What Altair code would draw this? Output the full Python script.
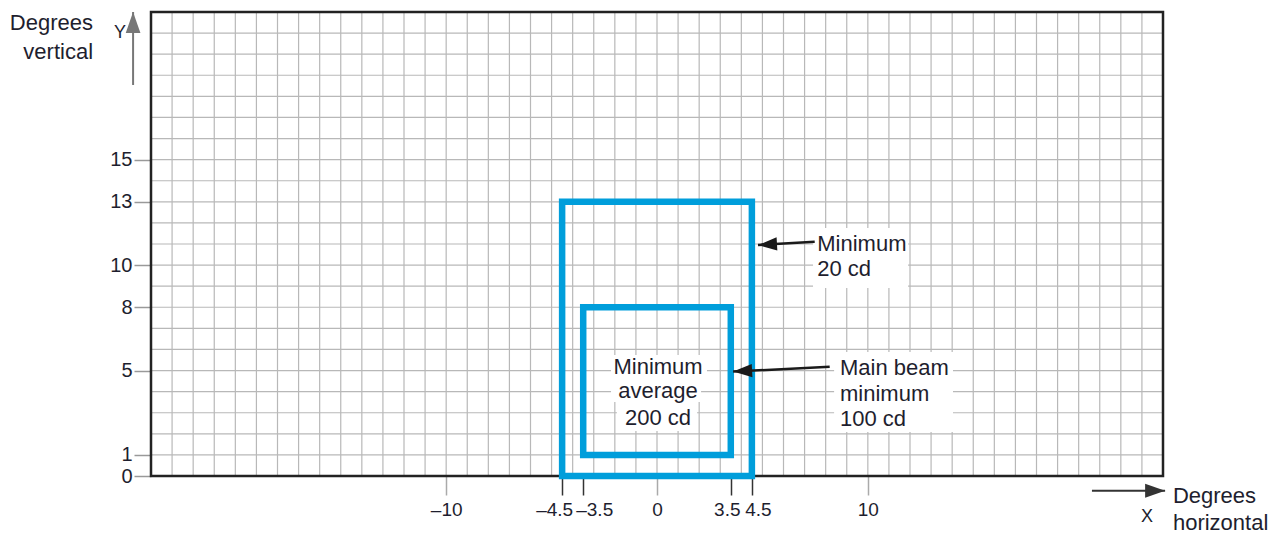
import altair as alt
import pandas as pd

# ---------------- data ----------------
X_DOMAIN = [-24, 24]
Y_DOMAIN = [0, 22]
x_ticks = [-10, -4.5, -3.5, 0, 3.5, 4.5, 10]
y_ticks = [0, 1, 5, 8, 10, 13, 15]
x_grid = list(range(X_DOMAIN[0], X_DOMAIN[1] + 1))
y_grid = list(range(Y_DOMAIN[0], Y_DOMAIN[1] + 1))

box_name = ["Minimum 20 cd", "Main beam minimum 100 cd"]
box_x1 = [-4.5, -3.5]
box_x2 = [4.5, 3.5]
box_y1 = [0, 1]
box_y2 = [13, 8]

# white backgrounds behind annotation text (data coords)
bg_x1 = [7.40, 8.40, -2.18, -2.18, -1.90]
bg_x2 = [11.91, 14.04, 2.37, 2.09, 1.90]
bg_y1 = [8.91, 2.09, 4.55, 3.51, 2.13]
bg_y2 = [11.76, 5.88, 5.74, 4.55, 3.51]

# arrows: tail -> tip
arr_x = [7.48, 8.19, -24.85, 20.63]
arr_y = [11.11, 5.18, 18.54, -0.70]
arr_x2 = [4.79, 3.61, -24.85, 24.10]
arr_y2 = [10.95, 4.95, 22.0, -0.70]
arr_angle = [356.7, 357.0, 90, 180]
arr_size = [361, 361, 441, 400]
arr_color = ["#1a1a1a", "#1a1a1a", "#777777", "#333333"]
arr_width = [2.5, 2.5, 2.0, 2.0]

txt_left = ["Minimum", "20 cd", "Main beam", "minimum", "100 cd", "Degrees", "horizontal"]
txt_left_x = [7.60, 7.60, 8.68, 8.68, 8.68, 24.47, 24.47]
txt_left_y = [10.68, 9.48, 4.79, 3.56, 2.37, -1.27, -2.56]

txt_center = ["Minimum", "average", "200 cd"]
txt_center_x = [0.05, 0.05, 0.05]
txt_center_y = [4.82, 3.68, 2.42]

txt_axis_letter = ["Y", "X"]
txt_axis_letter_x = [-25.47, 23.24]
txt_axis_letter_y = [20.77, -2.17]

txt_right = ["Degrees", "vertical"]
txt_right_x = [-26.75, -26.75]
txt_right_y = [21.15, 19.77]

# ---------------- styles ----------------
FONT = "Liberation Sans"
TXT = "#1e1e2e"
GRID = "#b8b8b8"
BLUE = "#009edb"

xs = alt.Scale(domain=X_DOMAIN, nice=False, zero=False)
ys = alt.Scale(domain=Y_DOMAIN, nice=False, zero=False)

xa = alt.Axis(
    values=x_ticks, title=None, domain=False, grid=False,
    tickSize=19, tickWidth=1.5,
    tickColor={"condition": {"test": "abs(datum.value) == 3.5 || abs(datum.value) == 4.5", "value": "#333333"},
               "value": "#aaaaaa"},
    labelOffset={"condition": [
        {"test": "datum.value == -4.5", "value": -8},
        {"test": "datum.value == -3.5", "value": 11},
        {"test": "datum.value == 3.5", "value": -4},
        {"test": "datum.value == 4.5", "value": 6}], "value": 0},
    labelFontSize=19, labelColor=TXT, labelPadding=5, labelFont=FONT,
    labelOverlap=False, labelBound=False, labelFlush=False, format="~g",
    labelExpr="replace(datum.label, '\u2212', '\u2013')",
)
ya = alt.Axis(
    values=y_ticks, title=None, domain=False, grid=False,
    tickSize=17, tickWidth=1.5, tickColor="#999999",
    labelFontSize=20, labelColor=TXT, labelPadding=2, labelFont=FONT,
    labelOverlap=False, labelBound=False, labelFlush=False,
)


def X(f):
    return alt.X(f, type="quantitative", scale=xs, axis=xa)


def Y(f):
    return alt.Y(f, type="quantitative", scale=ys, axis=ya)


grid_v = alt.Chart(pd.DataFrame({"x": x_grid})).mark_rule(color=GRID, strokeWidth=1.2).encode(x=X("x"))
grid_h = alt.Chart(pd.DataFrame({"y": y_grid})).mark_rule(color=GRID, strokeWidth=1.2).encode(y=Y("y"))

border = alt.Chart(pd.DataFrame({"x": [X_DOMAIN[0]], "x2": [X_DOMAIN[1]],
                                 "y": [Y_DOMAIN[0]], "y2": [Y_DOMAIN[1]]})).mark_rect(
    fillOpacity=0, stroke="#222222", strokeWidth=2.5).encode(
    x=X("x"), x2="x2", y=Y("y"), y2="y2")

bg = alt.Chart(pd.DataFrame({"x": bg_x1, "x2": bg_x2, "y": bg_y1, "y2": bg_y2})).mark_rect(
    fill="white").encode(x=X("x"), x2="x2", y=Y("y"), y2="y2")

boxes = alt.Chart(pd.DataFrame({"name": box_name, "x": box_x1, "x2": box_x2,
                                "y": box_y1, "y2": box_y2})).mark_rect(
    fillOpacity=0, stroke=BLUE, strokeWidth=6.5).encode(x=X("x"), x2="x2", y=Y("y"), y2="y2")

arr_df = pd.DataFrame({"x": arr_x, "y": arr_y, "x2": arr_x2, "y2": arr_y2,
                       "angle": arr_angle, "size": arr_size, "c": arr_color, "w": arr_width})

shafts = alt.Chart(arr_df).mark_rule().encode(
    x=X("x"), y=Y("y"), x2="x2", y2="y2",
    color=alt.Color("c:N", scale=None),
    strokeWidth=alt.StrokeWidth("w:Q", scale=None))

heads = alt.Chart(arr_df).mark_point(
    shape="M0,0L2,-0.7L2,0.7Z", filled=True, opacity=1).encode(
    x=X("x2"), y=Y("y2"),
    angle=alt.Angle("angle:Q", scale=None),
    size=alt.Size("size:Q", scale=None),
    color=alt.Color("c:N", scale=None))

t_left = alt.Chart(pd.DataFrame({"t": txt_left, "x": txt_left_x, "y": txt_left_y})).mark_text(
    align="left", baseline="alphabetic", font=FONT, fontSize=22, color=TXT).encode(
    x=X("x"), y=Y("y"), text="t:N")
t_center = alt.Chart(pd.DataFrame({"t": txt_center, "x": txt_center_x, "y": txt_center_y})).mark_text(
    align="center", baseline="alphabetic", font=FONT, fontSize=22, color=TXT).encode(
    x=X("x"), y=Y("y"), text="t:N")
t_letter = alt.Chart(pd.DataFrame({"t": txt_axis_letter, "x": txt_axis_letter_x, "y": txt_axis_letter_y})).mark_text(
    align="center", baseline="alphabetic", font=FONT, fontSize=18, color=TXT).encode(
    x=X("x"), y=Y("y"), text="t:N")
t_right = alt.Chart(pd.DataFrame({"t": txt_right, "x": txt_right_x, "y": txt_right_y})).mark_text(
    align="right", baseline="alphabetic", font=FONT, fontSize=22, color=TXT).encode(
    x=X("x"), y=Y("y"), text="t:N")

chart = alt.layer(
    grid_v, grid_h, border, bg, boxes, shafts, heads, t_left, t_center, t_letter, t_right
).properties(
    width=1012, height=464,
    autosize="none",
    padding={"left": 143, "top": 4, "right": 115, "bottom": 60},
).configure_view(stroke=None).configure(font=FONT)

chart.save("out.html", embed_options={"renderer": "svg", "actions": False})
